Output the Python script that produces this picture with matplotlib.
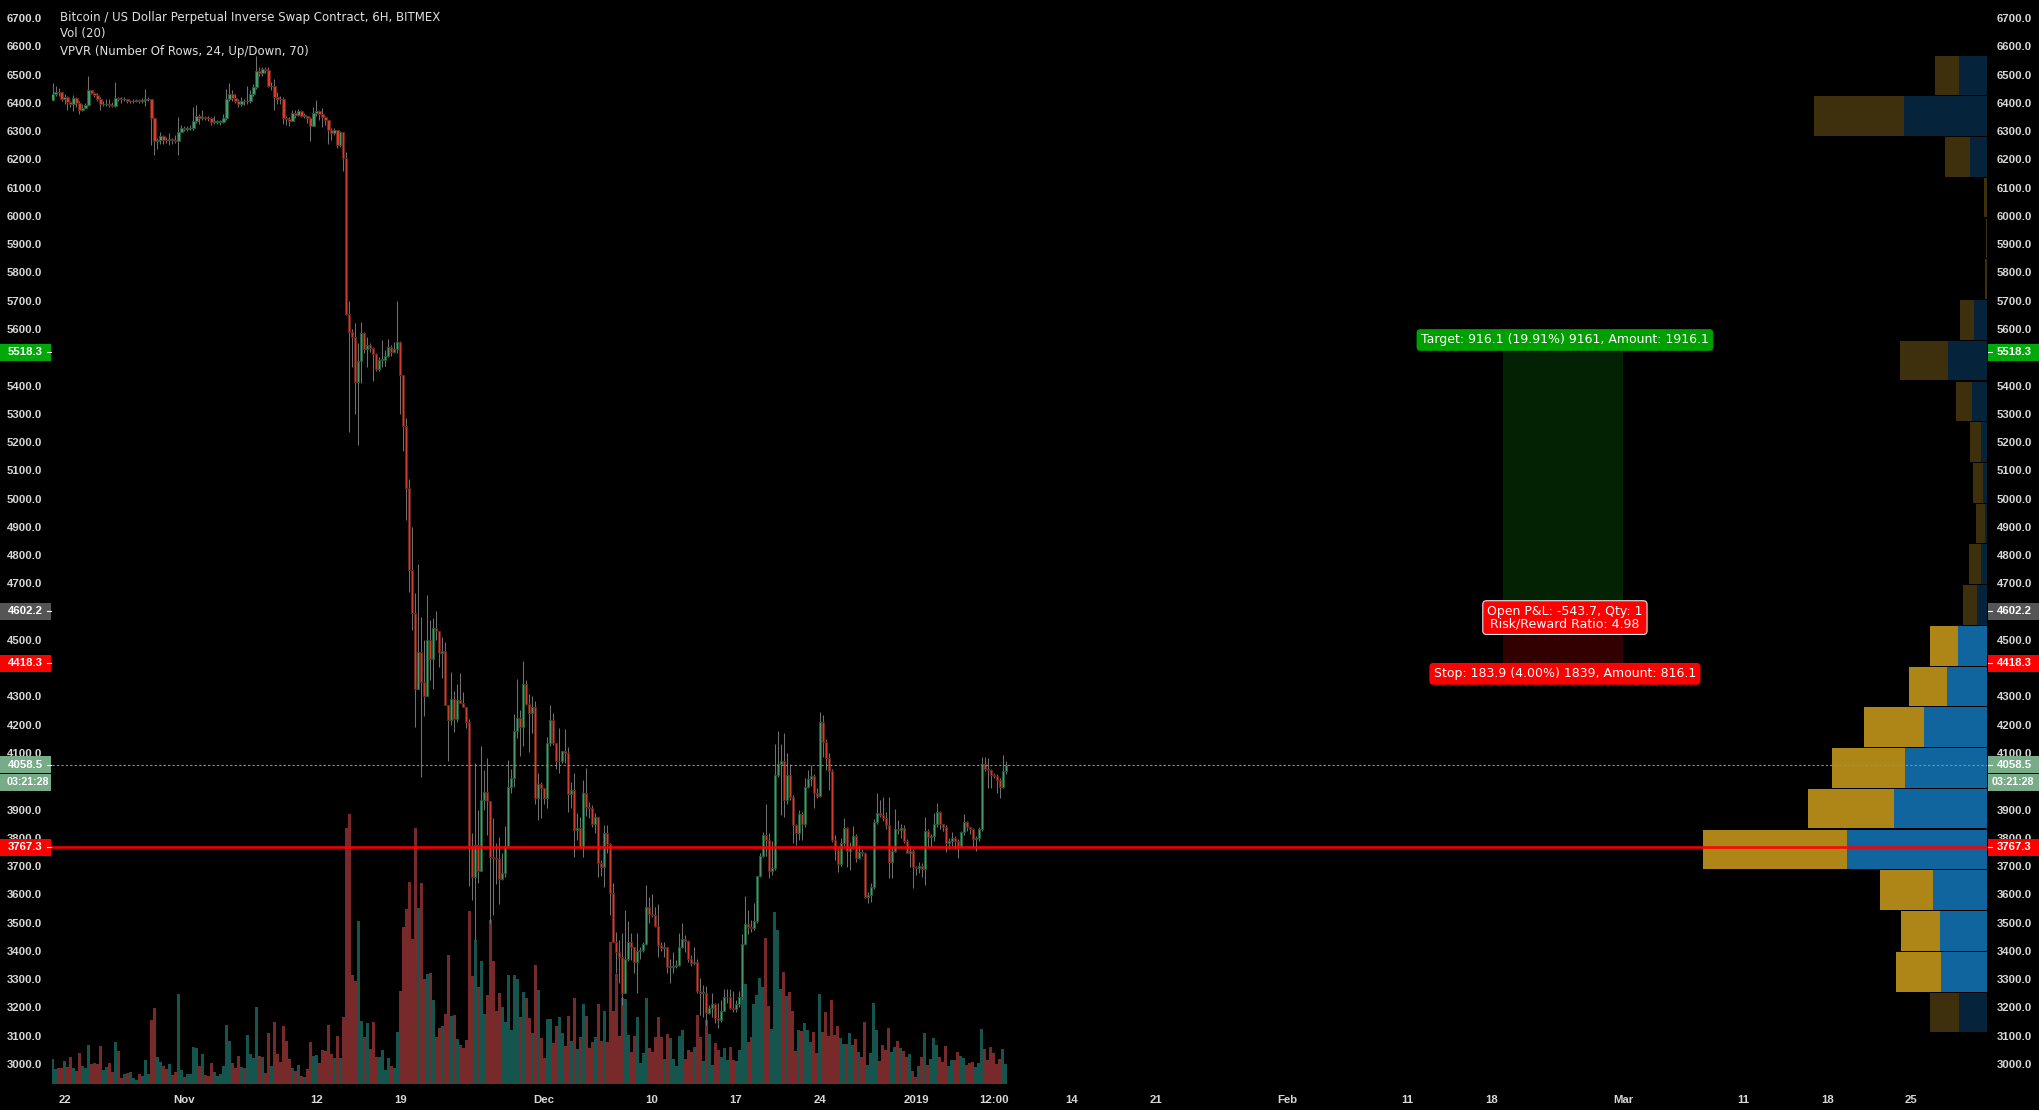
import numpy as np
import matplotlib
matplotlib.use('Agg')
import matplotlib.pyplot as plt
from matplotlib.patches import Rectangle

# 6H candles
closes = [6432,6438,6437,6415,6420,6402,6396,6418,6400,6375,6382,6392,6445,6435,6428,6415,6395,6395,6395,6392,
          6390,6418,6415,6412,6413,6405,6405,6408,6410,6408,6410,6412,6412,6345,6265,6268,6282,6270,6268,6272,
          6268,6265,6298,6310,6308,6310,6312,6335,6355,6345,6350,6348,6345,6333,6333,6333,6333,6345,6412,6430,
          6418,6408,6395,6408,6405,6405,6430,6455,6512,6505,6518,6515,6458,6458,6420,6415,6413,6348,6342,6335,
          6365,6358,6372,6355,6355,6345,6318,6365,6372,6360,6350,6340,6305,6292,6305,6252,6295,6205,5654,5590,
          5570,5412,5485,5585,5530,5545,5533,5512,5460,5490,5490,5505,5535,5518,5530,5555,5437,5255,5037,4748,
          4594,4325,4456,4350,4303,4500,4432,4541,4532,4453,4462,4269,4215,4292,4219,4288,4276,4262,4211,3771,
          3660,3773,3684,3932,3963,3929,3731,3728,3725,3653,3675,3771,3981,4011,4179,4223,4191,4343,4274,4243,
          4262,3940,3989,3975,3940,4134,4215,4137,4070,4071,4106,4099,3954,3969,3828,3834,3769,3958,3910,3904,
          3849,3873,3710,3698,3818,3778,3604,3433,3397,3380,3250,3370,3433,3415,3360,3400,3403,3425,3557,3530,
          3527,3488,3421,3409,3413,3344,3344,3347,3350,3413,3441,3435,3370,3358,3362,3259,3252,3252,3179,3197,
          3211,3162,3156,3189,3236,3236,3199,3193,3212,3236,3423,3495,3486,3480,3504,3665,3737,3810,3792,3684,
          3692,4022,4061,4070,3932,4022,3943,3846,3818,3883,3848,3981,4007,4019,3960,3948,4211,4138,4081,4037,
          3792,3757,3708,3781,3834,3755,3767,3808,3728,3749,3745,3592,3598,3627,3857,3889,3881,3869,3846,3713,
          3755,3830,3828,3834,3787,3745,3755,3696,3692,3702,3689,3825,3804,3805,3848,3890,3848,3840,3781,3787,
          3798,3787,3769,3820,3857,3837,3831,3796,3798,3830,4061,4042,4040,4022,4017,4005,3981,4038,4058.5]
highs = [6470,6458,6452,6440,6432,6425,6408,6428,6420,6405,6395,6400,6495,6447,6440,6435,6420,6405,6412,6415,
         6402,6475,6420,6420,6420,6415,6410,6412,6415,6415,6418,6450,6420,6415,6350,6275,6295,6285,6280,6292,
         6275,6285,6350,6320,6318,6318,6320,6385,6392,6362,6375,6355,6352,6350,6352,6338,6340,6360,6450,6470,
         6445,6430,6412,6420,6415,6460,6445,6465,6565,6525,6525,6525,6525,6475,6485,6440,6425,6420,6355,6350,
         6375,6375,6378,6375,6365,6355,6350,6385,6410,6375,6380,6355,6340,6310,6310,6305,6300,6295,6225,5700,
         5600,5620,5550,5625,5590,5570,5550,5535,5515,5500,5560,5525,5565,5545,5555,5700,5558,5437,5285,5070,
         4900,4665,4769,4580,4500,4659,4571,4577,4603,4532,4512,4492,4269,4388,4320,4343,4382,4315,4262,4219,
         3816,4064,3899,4125,4040,4081,3929,3869,3783,3804,3745,3842,4075,4042,4238,4362,4252,4426,4358,4308,
         4302,4284,4028,3999,3975,4158,4270,4243,4137,4187,4106,4185,4123,3999,4028,3889,3873,4005,4046,3925,
         3916,3887,3873,3720,3846,3846,3780,3639,3468,3439,3462,3545,3504,3462,3415,3462,3415,3430,3633,3592,
         3601,3557,3565,3432,3432,3415,3370,3395,3368,3462,3498,3455,3440,3385,3415,3370,3303,3280,3275,3210,
         3250,3215,3215,3225,3264,3264,3264,3258,3225,3258,3460,3594,3545,3510,3568,3665,3745,3822,3920,3818,
         3790,4132,4179,4132,4170,4099,4060,3950,3850,3900,3890,4011,4040,4058,4025,3975,4244,4235,4150,4100,
         4045,3810,3770,3800,3869,3840,3785,3843,3815,3775,3760,3750,3610,3640,3865,3960,3934,3946,3890,3946,
         3770,3901,3863,3850,3846,3795,3770,3760,3700,3715,3710,3875,3830,3815,3887,3922,3895,3850,3845,3800,
         3822,3805,3795,3825,3884,3860,3840,3835,3805,3840,4087,4085,4081,4045,4030,4025,4010,4093,4070]
lows = [6405,6425,6425,6408,6395,6375,6385,6370,6385,6362,6370,6380,6390,6430,6420,6405,6375,6390,6390,6385,
        6385,6385,6405,6400,6405,6398,6400,6400,6402,6398,6398,6390,6405,6250,6215,6235,6255,6255,6258,6250,
        6255,6258,6215,6295,6300,6300,6305,6305,6330,6325,6340,6340,6335,6320,6325,6325,6322,6330,6340,6405,
        6405,6400,6385,6388,6392,6395,6400,6425,6450,6495,6495,6505,6455,6445,6375,6395,6395,6325,6320,6318,
        6335,6345,6355,6350,6348,6330,6265,6318,6355,6340,6315,6320,6255,6270,6285,6240,6245,6160,5650,5235,
        5465,5300,5190,5410,5515,5465,5520,5415,5450,5450,5465,5470,5500,5505,5515,5515,5300,5170,4925,4670,
        4535,4193,4325,4016,4232,4303,4358,4327,4500,4406,4367,4269,4072,4199,4176,4208,4276,4262,4190,3630,
        3580,3440,3639,3684,3900,3810,3500,3527,3635,3566,3650,3660,3770,3960,3981,4152,4091,4125,4270,4105,
        4170,3920,3863,3869,3920,3904,4125,4130,4042,4031,4065,4065,3893,3904,3733,3792,3765,3733,3877,3869,
        3840,3816,3660,3665,3627,3745,3527,3433,3321,3285,3209,3250,3365,3368,3321,3252,3370,3395,3420,3500,
        3521,3485,3380,3400,3380,3321,3288,3321,3340,3345,3410,3397,3360,3345,3350,3250,3173,3167,3138,3175,
        3167,3144,3126,3150,3190,3215,3193,3185,3185,3200,3230,3420,3460,3468,3474,3500,3660,3732,3737,3657,
        3670,3686,4015,3881,3875,3920,3935,3781,3775,3792,3792,3840,3975,3985,3904,3940,3945,4085,4040,3969,
        3785,3722,3678,3700,3770,3698,3686,3760,3716,3725,3735,3586,3571,3574,3620,3850,3875,3860,3830,3657,
        3657,3750,3815,3800,3780,3745,3698,3621,3669,3675,3663,3633,3769,3769,3790,3840,3830,3825,3751,3760,
        3770,3759,3728,3767,3810,3825,3815,3763,3755,3790,3825,4035,3975,3975,4010,3960,3940,3975,4026]
volumes = [73,44,46,47,67,51,79,47,38,91,53,47,115,59,61,59,113,41,49,61,34,124,98,16,29,31,35,17,11,29,23,71,29,
           191,226,79,65,53,43,59,26,34,269,41,21,29,29,109,107,53,89,26,24,61,35,23,29,53,175,128,61,47,83,51,47,
           146,89,78,230,83,79,31,153,53,185,89,66,173,128,73,47,38,55,23,21,44,124,83,85,61,101,98,176,88,76,142,
           76,199,766,808,325,307,487,187,139,181,103,184,79,79,100,40,76,52,46,154,277,469,523,604,433,766,526,
           601,313,328,331,250,139,166,172,208,385,202,205,133,115,106,130,517,322,430,289,367,208,265,490,367,
           217,271,229,184,325,160,325,313,199,274,256,196,151,355,280,136,76,193,193,121,172,199,151,112,202,127,
           256,103,139,238,202,106,126,141,239,128,218,126,426,218,328,144,256,254,146,96,143,199,63,91,256,106,
           95,139,199,139,74,149,138,74,54,143,161,74,101,94,111,206,141,69,191,149,56,122,101,81,106,71,111,71,
           69,101,259,298,126,141,239,266,316,289,436,233,164,515,461,284,335,263,274,218,98,161,158,182,161,126,
           156,93,269,156,216,144,251,146,173,138,119,119,153,116,134,94,81,185,56,91,241,161,69,116,101,168,96,
           111,128,106,98,81,88,38,21,53,79,151,56,74,136,116,79,66,113,54,71,71,94,83,76,56,61,66,49,61,164,103,
           71,111,93,59,74,104,59]
first_open = 6410

# volume profile rows, top row first
vp_prices = [6497,6353,6209,6065,5920,5776,5632,5488,5344,5200,5056,4912,
             4768,4624,4479,4335,4191,4047,3903,3759,3615,3470,3326,3182]
vp_up = [83,249,51,1,0,1,38,117,45,18,12,6,18,30,87,119,189,246,279,420,162,140,137,83]
vp_down = [72,269,75,8,3,5,43,144,49,33,29,27,36,42,84,115,179,218,258,432,158,118,136,87]
vp_in_area = [False]*14 + [True]*9 + [False]

y_ticks = list(range(3000, 6800, 100))
x_tick_pos = [4,44,88,116,164,200,228,256,288,314,340,368,412,452,480,524,564,592,620]
x_tick_labels = ['22','Nov','12','19','Dec','10','17','24','2019','12:00','14','21','Feb','11','18','Mar','11','18','25']

last_price = 4058.5
line_price = 3767.3
target_price = 5518.3
entry_price = 4602.2
stop_price = 4418.3

W, H = 2039, 1110
BG = '#000000'
UP_BODY, UP_EDGE = '#4f9a72', '#1d5a38'
DOWN_BODY, DOWN_EDGE = '#d8402a', '#6e2117'
VOL_UP, VOL_DOWN = '#16544e', '#782a2a'
LABEL = '#d8d8d8'

fig = plt.figure(figsize=(W/100, H/100), dpi=100, facecolor=BG)
rect = [52/W, (H-1085)/H, 1935/W, 1085/H]

ax_vol = fig.add_axes(rect, zorder=1, facecolor=BG)
ax_vp = fig.add_axes(rect, zorder=2, facecolor='none')
ax = fig.add_axes(rect, zorder=3, facecolor='none')

xlim = (-0.17, 645.3)
ylim = (2925.6, 6763.7)

opens = np.array([first_open] + closes[:-1], dtype=float)
closes_a = np.array(closes, dtype=float)
idx = np.arange(len(closes))
is_up = closes_a >= opens

# volume
ax_vol.bar(idx, volumes, width=1.0, linewidth=0, color=[VOL_UP if u else VOL_DOWN for u in is_up])
ax_vol.set_xlim(xlim)
ax_vol.set_ylim(-4, 3251)
ax_vol.axis('off')

# volume profile
ax_vp.barh(vp_prices, vp_up, height=140, linewidth=0,
           color=['#10659f' if a else '#05233a' for a in vp_in_area])
ax_vp.barh(vp_prices, vp_down, left=vp_up, height=140, linewidth=0,
           color=['#ae8618' if a else '#3e2f0d' for a in vp_in_area])
ax_vp.set_xlim(5805, 0)
ax_vp.set_ylim(ylim)
ax_vp.axis('off')

# candles
ax.vlines(idx, lows, highs, color='#707070', linewidth=0.75, zorder=2)
body_low = np.minimum(opens, closes_a)
body_h = np.maximum(np.abs(closes_a - opens), 2)
ax.bar(idx, body_h, bottom=body_low, width=0.8, linewidth=0.75, zorder=3,
       color=[UP_BODY if u else DOWN_BODY for u in is_up],
       edgecolor=[UP_EDGE if u else DOWN_EDGE for u in is_up])

# long position tool
ax.fill_between([484, 524], entry_price, target_price, color='#032204', linewidth=0, zorder=1)
ax.fill_between([484, 524], stop_price, entry_price, color='#330002', linewidth=0, zorder=1)

ax.axhline(last_price, color='#6ba583', linewidth=0.8, linestyle=(0, (2, 2)), zorder=4)
ax.axhline(line_price, color='#ff0000', linewidth=1.9, alpha=0.95, zorder=5)

ax.set_xlim(xlim)
ax.set_ylim(ylim)
for s in ax.spines.values():
    s.set_visible(False)
ax.set_yticks(y_ticks)
ax.set_yticklabels(['%.1f' % t for t in y_ticks])
ax.set_xticks(x_tick_pos)
ax.set_xticklabels(x_tick_labels)
ax.tick_params(axis='y', length=0, labelleft=True, labelright=True, pad=7.2,
               labelsize=8.2, labelcolor=LABEL)
ax.tick_params(axis='x', length=0, pad=7, labelsize=8.2, labelcolor=LABEL)
for t in ax.get_yticklabels() + ax.get_xticklabels():
    t.set_family('Liberation Sans')
    t.set_fontweight('bold')

# price badges on both scales
def frac(px):
    return (px - 52) / 1935

tr = ax.get_yaxis_transform()

def badge(price, text, color, tick=True, left_x=8, right_x=1997, size=8.2):
    h = 60
    for x0, x1, tx in [(0, 51, left_x), (1988, 2039, right_x)]:
        ax.add_patch(Rectangle((frac(x0), price - h/2), frac(x1) - frac(x0), h, transform=tr,
                               facecolor=color, edgecolor='none', clip_on=False, zorder=8))
        ax.text(frac(tx), price, text, transform=tr, color='white', fontsize=size, fontweight='bold',
                family='Liberation Sans', ha='left', va='center', clip_on=False, zorder=9)
    if tick:
        ax.plot([frac(47), frac(51)], [price, price], transform=tr, color='white', linewidth=0.8,
                clip_on=False, zorder=9)
        ax.plot([frac(1988), frac(1992)], [price, price], transform=tr, color='white', linewidth=0.8,
                clip_on=False, zorder=9)

badge(target_price, '5518.3', '#00a80a')
badge(entry_price, '4602.2', '#555555')
badge(stop_price, '4418.3', '#ff0000')
badge(last_price, '4058.5', '#78ac89')
badge(3997, '03:21:28', '#78ac89', tick=False, left_x=7, right_x=1992, size=7.7)
badge(line_price, '3767.3', '#ff0000')

# header
header = ['Bitcoin / US Dollar Perpetual Inverse Swap Contract, 6H, BITMEX',
          'Vol (20)',
          'VPVR (Number Of Rows, 24, Up/Down, 70)']
for txt, py in zip(header, [17, 34, 51]):
    fig.text(60/W, 1 - py/H, txt, color='#e0e0e0', fontsize=8.5, va='center', ha='left',
             family='DejaVu Sans', zorder=10)

# position tool labels
box = dict(boxstyle='round,pad=0.35,rounding_size=0.3', linewidth=0)
ax.text(504.5, 5561, 'Target: 916.1 (19.91%) 9161, Amount: 1916.1', color='white', fontsize=9,
        ha='center', va='center', zorder=7, bbox=dict(box, facecolor='#009f00'))
ax.text(504.5, 4380, 'Stop: 183.9 (4.00%) 1839, Amount: 816.1', color='white', fontsize=9,
        ha='center', va='center', zorder=7, bbox=dict(box, facecolor='#ff0000'))
ax.text(504.5, 4579, 'Open P&L: -543.7, Qty: 1\nRisk/Reward Ratio: 4.98', color='white', fontsize=9,
        ha='center', va='center', zorder=7, linespacing=0.9, multialignment='center',
        bbox=dict(boxstyle='round,pad=0.35,rounding_size=0.3', facecolor='#ff0000',
                  edgecolor='#e8e8e8', linewidth=0.8))

fig.savefig('out.png', dpi=100, facecolor=BG)
